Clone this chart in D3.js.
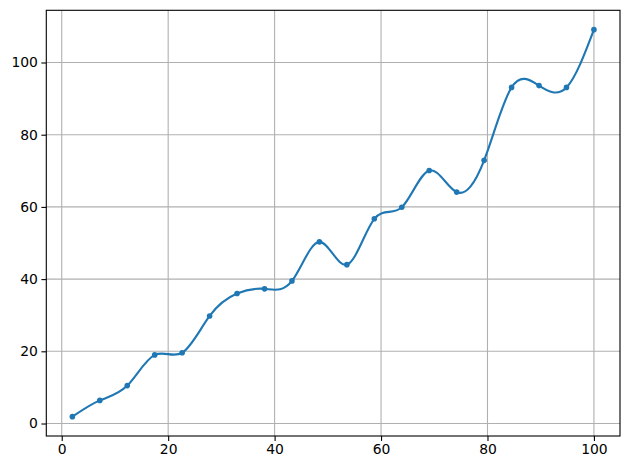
<!DOCTYPE html>
<html><head><meta charset="utf-8">
<script src="https://cdn.jsdelivr.net/npm/d3@7"></script>
<style>body{margin:0;background:#fff}svg{display:block}</style>
</head><body>
<svg id="c" width="630" height="470"></svg>
<script>
const xValues = [2, 7.158, 12.316, 17.474, 22.632, 27.789, 32.947, 38.105, 43.263, 48.421, 53.579, 58.737, 63.895, 69.053, 74.211, 79.368, 84.526, 89.684, 94.842, 100];
const yValues = [1.9, 6.4, 10.5, 19.0, 19.6, 29.8, 36.0, 37.3, 39.5, 50.3, 44.0, 56.7, 59.9, 70.1, 64.1, 72.9, 93.1, 93.6, 93.1, 109.1];
const xTicks = [0, 20, 40, 60, 80, 100];
const yTicks = [0, 20, 40, 60, 80, 100];

const W = 630, H = 470;
const L = 46.3, R = 620, T = 10.3, B = 436;
const svg = d3.select("#c");
const xr = [d3.min(xValues), d3.max(xValues)], yr = [d3.min(yValues), d3.max(yValues)];
const xm = (xr[1]-xr[0])*0.05, ym = (yr[1]-yr[0])*0.05;
const x = d3.scaleLinear().domain([xr[0]-xm, xr[1]+xm]).range([L, R]);
const y = d3.scaleLinear().domain([yr[0]-ym, yr[1]+ym]).range([B, T]);

const font = "DejaVu Sans, sans-serif";
// grid
const g = svg.append("g");
g.selectAll(".gx").data(xTicks).enter().append("line")
  .attr("x1", d=>x(d)).attr("x2", d=>x(d)).attr("y1", T).attr("y2", B)
  .attr("stroke", "#b0b0b0").attr("stroke-width", 1.1);
g.selectAll(".gy").data(yTicks).enter().append("line")
  .attr("y1", d=>y(d)).attr("y2", d=>y(d)).attr("x1", L).attr("x2", R)
  .attr("stroke", "#b0b0b0").attr("stroke-width", 1.1);

// axes
const xAxis = d3.axisBottom(x).tickValues(xTicks).tickSizeInner(4.9).tickSizeOuter(0).tickPadding(3.5);
const yAxis = d3.axisLeft(y).tickValues(yTicks).tickSizeInner(4.9).tickSizeOuter(0).tickPadding(3.5);
const ax = svg.append("g").attr("transform", `translate(0,${B})`).call(xAxis);
const ay = svg.append("g").attr("transform", `translate(${L},0)`).call(yAxis);
[ax, ay].forEach(a => {
  a.select(".domain").remove();
  a.selectAll("line").attr("stroke", "#000").attr("stroke-width", 1.1);
  a.selectAll("text").attr("fill", "#000").style("font-family", font).style("font-size", "13.9px");
});

// line
const pts = xValues.map((v,i)=>[v, yValues[i]]);
svg.append("path").datum(pts)
  .attr("d", d3.line().x(d=>x(d[0])).y(d=>y(d[1])).curve(d3.curveNatural))
  .attr("fill", "none").attr("stroke", "#1f77b4").attr("stroke-width", 2.1);
svg.append("g").selectAll("circle").data(pts).enter().append("circle")
  .attr("cx", d=>x(d[0])).attr("cy", d=>y(d[1])).attr("r", 2.8).attr("fill", "#1f77b4");

// frame
svg.append("rect").attr("x", L).attr("y", T).attr("width", R-L).attr("height", B-T)
  .attr("fill", "none").attr("stroke", "#000").attr("stroke-width", 1.1);
</script>
</body></html>
